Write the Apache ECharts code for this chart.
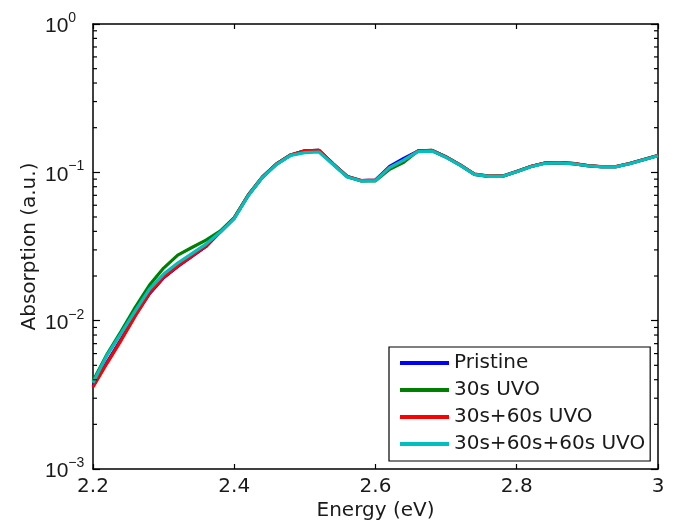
<!DOCTYPE html>
<html>
<head>
<meta charset="utf-8">
<script src="https://cdn.jsdelivr.net/npm/echarts@6/dist/echarts.min.js"></script>
<style>html,body{margin:0;padding:0;background:#fff}#c{width:679px;height:528px}</style>
</head>
<body>
<div id="c"></div>
<script>
var energy = [2.20,2.22,2.24,2.26,2.28,2.30,2.32,2.34,2.36,2.38,2.40,2.42,2.44,2.46,2.48,2.50,2.52,2.54,2.56,2.58,2.60,2.62,2.64,2.66,2.68,2.70,2.72,2.74,2.76,2.78,2.80,2.82,2.84,2.86,2.88,2.90,2.92,2.94,2.96,2.98,3.00];
var seriesNames = ['Pristine','30s UVO','30s+60s UVO','30s+60s+60s UVO'];
var pristine = [0.00362,0.00526,0.00751,0.0109,0.0152,0.0195,0.0232,0.0271,0.0316,0.0396,0.0492,0.0703,0.0930,0.1140,0.1310,0.1395,0.1405,0.1140,0.0937,0.0878,0.0887,0.1098,0.1240,0.1391,0.1403,0.1268,0.1120,0.0970,0.0940,0.0942,0.1012,0.1094,0.1155,0.1161,0.1146,0.1111,0.1091,0.1091,0.1146,0.1220,0.1298];
var uvo30 = [0.00392,0.00595,0.00851,0.01235,0.01738,0.02263,0.02769,0.03112,0.03495,0.0402,0.0495,0.0705,0.0930,0.1140,0.1310,0.1395,0.1405,0.1140,0.0935,0.0875,0.0876,0.1050,0.1170,0.1395,0.1405,0.1270,0.1120,0.0972,0.0942,0.0942,0.1012,0.1094,0.1155,0.1161,0.1146,0.1111,0.1091,0.1091,0.1146,0.1220,0.1298];
var uvo30_60 = [0.00357,0.00518,0.00740,0.01082,0.01535,0.01968,0.02334,0.02726,0.03184,0.0396,0.0492,0.0703,0.0930,0.1140,0.1310,0.1395,0.1405,0.1138,0.0937,0.0881,0.0887,0.1077,0.1210,0.1391,0.1405,0.1270,0.1122,0.0974,0.0944,0.0944,0.1012,0.1096,0.1157,0.1163,0.1148,0.1112,0.1092,0.1092,0.1147,0.1221,0.1299];
var uvo30_60_60 = [0.00381,0.00586,0.00825,0.01169,0.01633,0.02062,0.02446,0.02834,0.03284,0.0394,0.0488,0.0698,0.0925,0.1132,0.1300,0.1359,0.1371,0.1130,0.0930,0.0875,0.0880,0.1077,0.1210,0.1380,0.1392,0.1262,0.1115,0.0968,0.0938,0.0940,0.1008,0.1090,0.1150,0.1156,0.1142,0.1108,0.1088,0.1088,0.1142,0.1216,0.1294];
var colors = ['#0000ff','#008000','#ff0000','#00bfbf'];
var xMin = 2.2, xMax = 3.0, xInterval = 0.2;
var yMin = 0.001, yMax = 1;
var minorTickValues = [0.002,0.003,0.004,0.005,0.006,0.007,0.008,0.009,0.02,0.03,0.04,0.05,0.06,0.07,0.08,0.09,0.2,0.3,0.4,0.5,0.6,0.7,0.8,0.9];

var FONT = 'DejaVu Sans';
var FONT2 = 'Liberation Sans';
var TXT = '#1a1a1a';
function pairs(ys){ return energy.map(function(x,i){ return [x, ys[i]]; }); }
var allData = [pristine, uvo30, uvo30_60, uvo30_60_60];

var lineSeries = seriesNames.map(function(n,i){
  return {
    name: n, type: 'line', data: pairs(allData[i]),
    showSymbol: false, symbol: 'none', smooth: false,
    lineStyle: {color: colors[i], width: 3.2},
    itemStyle: {color: colors[i]},
    z: 3 + i
  };
});

var minorSeries = {
  type: 'custom', silent: true, z: 10,
  xAxisIndex: 0, yAxisIndex: 0,
  data: minorTickValues.map(function(v){ return [xMin, v]; }),
  renderItem: function(params, api){
    var v = api.value(1);
    var pL = api.coord([xMin, v]);
    var pR = api.coord([xMax, v]);
    var st = {stroke: '#000', lineWidth: 1.2};
    return {type: 'group', children: [
      {type: 'line', shape: {x1: pL[0], y1: pL[1], x2: pL[0] + 4, y2: pL[1]}, style: st},
      {type: 'line', shape: {x1: pR[0], y1: pR[1], x2: pR[0] - 4, y2: pR[1]}, style: st}
    ]};
  }
};

var axisLine = {show: true, onZero: false, lineStyle: {color: '#000', width: 1.5}};
var chart = echarts.init(document.getElementById('c'), null, {renderer: 'canvas'});
chart.setOption({
  animation: false,
  backgroundColor: '#fff',
  grid: {left: 93, right: 21, top: 24, bottom: 59, containLabel: false},
  legend: {
    data: seriesNames, orient: 'vertical',
    left: 389, top: 347,
    padding: [6, 5, 7, 11],
    itemGap: 7, itemWidth: 49, itemHeight: 4, icon: 'rect',
    borderColor: '#000', borderWidth: 1.2, backgroundColor: '#fff',
    textStyle: {fontFamily: FONT, fontSize: 20, color: TXT, lineHeight: 20},
    selectedMode: false
  },
  xAxis: [{
    type: 'value', min: xMin, max: xMax, interval: xInterval,
    name: 'Energy (eV)', nameLocation: 'middle', nameGap: 32, nameMoveOverlap: false,
    nameTextStyle: {fontFamily: FONT, fontSize: 20, color: TXT},
    axisLine: axisLine,
    axisTick: {show: true, inside: true, length: 5, lineStyle: {color: '#000', width: 1.2}},
    axisLabel: {margin: 8, fontFamily: FONT, fontSize: 20, color: TXT,
      formatter: function(v){ return String(+v.toFixed(1)); }},
    splitLine: {show: false}
  }, {
    type: 'value', position: 'top', min: xMin, max: xMax, interval: xInterval,
    axisLine: axisLine,
    axisTick: {show: true, inside: true, length: 5, lineStyle: {color: '#000', width: 1.2}},
    axisLabel: {show: false}, splitLine: {show: false}
  }],
  yAxis: [{
    type: 'log', logBase: 10, min: yMin, max: yMax,
    name: 'Absorption (a.u.)', nameLocation: 'middle', nameGap: 53, nameRotate: 90, nameMoveOverlap: false,
    nameTextStyle: {fontFamily: FONT, fontSize: 20, color: TXT},
    axisLine: axisLine,
    axisTick: {show: true, inside: true, length: 7, lineStyle: {color: '#000', width: 1.2}},
    axisLabel: {
      margin: 48, align: 'left',
      formatter: function(v){
        var e = Math.round(Math.log10(v));
        return '{b|10}{s|' + (e < 0 ? '\u2212' + (-e) : e) + '}';
      },
      rich: {
        b: {fontFamily: FONT2, fontSize: 21, color: TXT, lineHeight: 26, verticalAlign: 'bottom'},
        s: {fontFamily: FONT2, fontSize: 14, color: TXT, lineHeight: 14, verticalAlign: 'top'}
      }
    },
    splitLine: {show: false}
  }, {
    type: 'log', logBase: 10, min: yMin, max: yMax, position: 'right',
    axisLine: axisLine,
    axisTick: {show: true, inside: true, length: 7, lineStyle: {color: '#000', width: 1.2}},
    axisLabel: {show: false}, splitLine: {show: false}
  }],
  series: lineSeries.concat([minorSeries])
});
</script>
</body>
</html>
